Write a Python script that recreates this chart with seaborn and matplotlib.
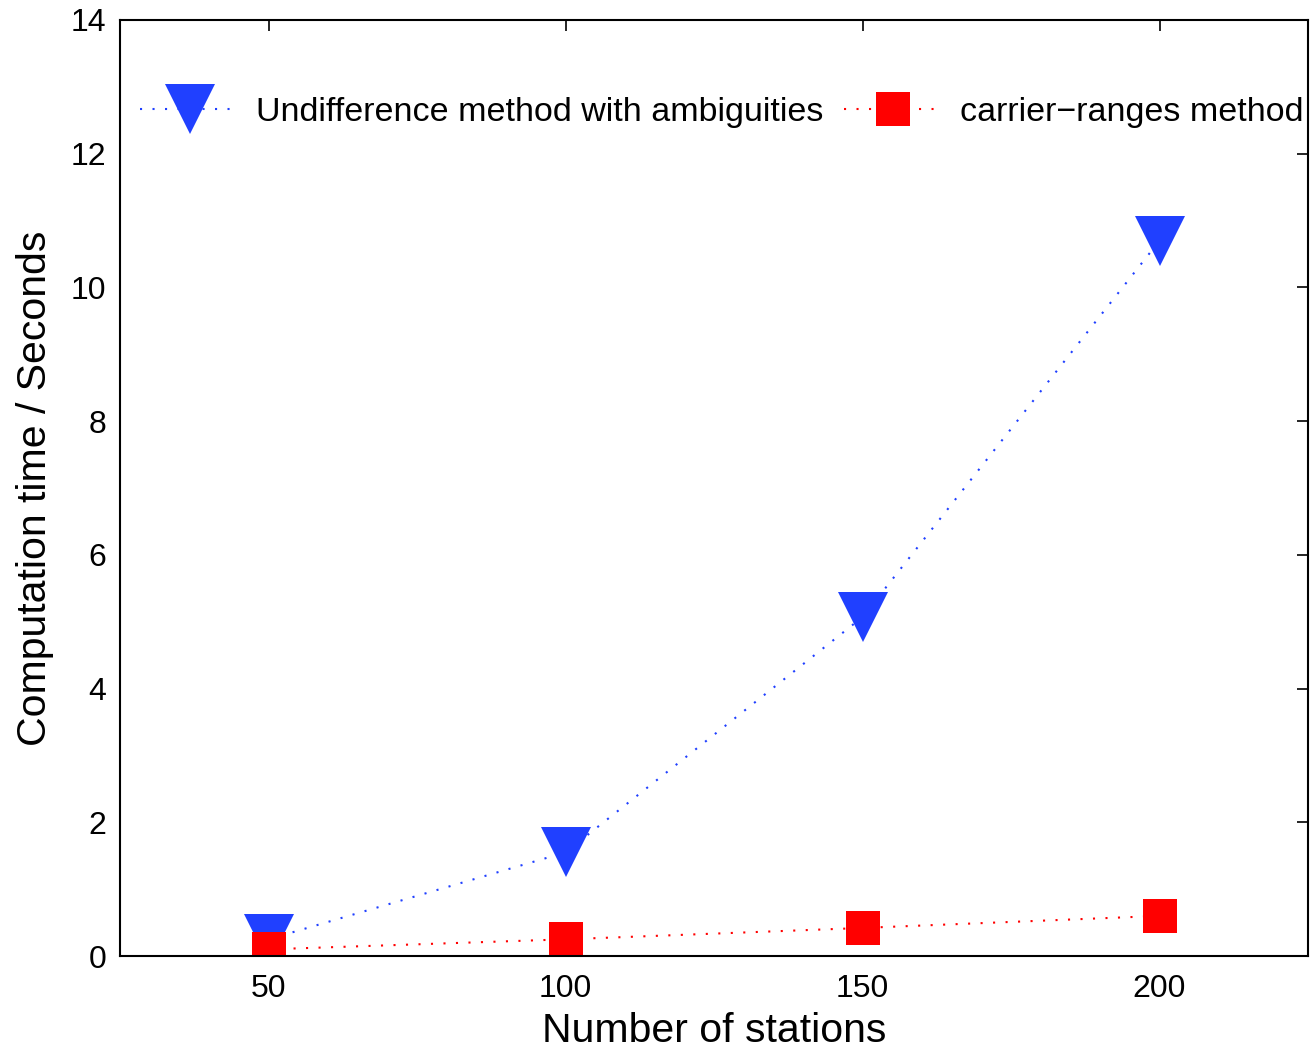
import numpy as np
import pandas as pd
import matplotlib
matplotlib.use("Agg")
import matplotlib.pyplot as plt
import seaborn as sns

stations = [50, 100, 150, 200]
undiff_time = [0.25, 1.55, 5.07, 10.7]
carrier_time = [0.1, 0.25, 0.42, 0.6]
labels = ["Undifference method with ambiguities", "carrier\u2212ranges method"]

sns.set_style("white")
plt.rcParams['font.family'] = ['Liberation Sans', 'DejaVu Sans']
plt.rcParams['text.color'] = 'black'
plt.rcParams['axes.labelcolor'] = 'black'
plt.rcParams['xtick.color'] = 'black'
plt.rcParams['ytick.color'] = 'black'

fig = plt.figure(figsize=(13.12, 10.5), dpi=100)
ax = fig.add_axes([0.0915, 0.0895, 0.9055, 0.8915])

sns.lineplot(x=stations, y=undiff_time, ax=ax, color="#2040ff", marker="v",
             markersize=36, markeredgewidth=0, linestyle=(0, (1, 5)), linewidth=1.5,
             label=labels[0])
sns.lineplot(x=stations, y=carrier_time, ax=ax, color="#ff0000", marker="s",
             markersize=24, markeredgewidth=0, linestyle=(0, (1, 5)), linewidth=1.5,
             label=labels[1])

ax.set_xlim(25, 225)
ax.set_ylim(0, 14)
ax.set_xticks([50, 100, 150, 200])
ax.set_yticks(np.arange(0, 15, 2))
ax.tick_params(direction="in", length=8, width=1.2, labelsize=23, top=True, right=True)
ax.tick_params(axis="x", pad=13)
ax.tick_params(axis="y", pad=10)
for s in ax.spines.values():
    s.set_linewidth(1.5)
    s.set_color("black")
ax.set_xlabel("Number of stations", fontsize=29.5, labelpad=6)
ax.set_ylabel("Computation time / Seconds", fontsize=29.5, labelpad=12)

ax.legend(loc="upper left", bbox_to_anchor=(0.0, 0.94), ncol=2, frameon=False,
          fontsize=24.5, handlelength=2.9, columnspacing=0.6, handletextpad=0.5,
          borderaxespad=0.2)

fig.savefig("out.png", dpi=100)
